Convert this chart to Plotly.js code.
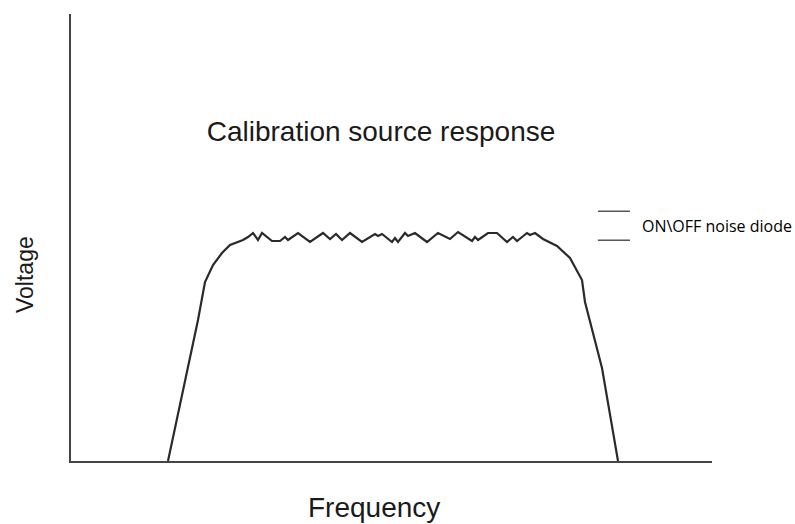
<!DOCTYPE html>
<html>
<head>
<meta charset="utf-8">
<script src="https://cdn.plot.ly/plotly-3.0.1.min.js"></script>
<style>html,body{margin:0;padding:0;background:#fff;}#chart{width:795px;height:524px;}</style>
</head>
<body>
<div id="chart"></div>
<script>
// Frequency (arbitrary units) and detected voltage (arbitrary units)
const frequency = [97,127,134,142,151,159,172,177,182,187,191,201,209,214,217,227,239,252,259,265,271,279,291,304,307,311,321,324,327,334,337,344,356,367,379,387,401,404,407,417,426,436,442,446,456,459,464,472,486,499,511,514,531,547];
const voltage   = [0,141,179,196,208,216,221,224,228,221,228,220,220,224,221,228,219,228,222,227,221,228,219,227,225,227,219,223,219,228,225,228,219,228,222,229,220,224,221,228,228,219,224,220,228,226,228,222,215,203,181,159,93,0];
const titleText = "Calibration source response";
const xTitle = "Frequency";
const yTitle = "Voltage";
const legendText = "ON\\OFF noise diode";

const trace = {
  x: frequency, y: voltage, type: 'scatter', mode: 'lines',
  line: {color: '#2a2a2a', width: 2.2}, showlegend: false, hoverinfo: 'skip'
};

const layout = {
  width: 795, height: 524,
  margin: {l: 71, r: 83, t: 14, b: 63},
  paper_bgcolor: '#ffffff', plot_bgcolor: '#ffffff',
  xaxis: {range: [0, 641], showgrid: false, zeroline: false, showticklabels: false, ticks: '',
          showline: true, linecolor: '#444444', linewidth: 2, fixedrange: true},
  yaxis: {range: [0, 447], showgrid: false, zeroline: false, showticklabels: false, ticks: '',
          showline: true, linecolor: '#444444', linewidth: 2, fixedrange: true},
  title: {text: titleText, font: {family: 'Liberation Sans, Arial, sans-serif', size: 28, color: '#1a1a1a'},
          xref: 'container', yref: 'container', x: 381/795, y: 1 - 131/524, xanchor: 'center', yanchor: 'middle'},
  shapes: [
    {type: 'line', xref: 'paper', yref: 'paper', x0: 0.822, x1: 0.872, y0: 0.559, y1: 0.559, line: {color: '#555555', width: 1.5}},
    {type: 'line', xref: 'paper', yref: 'paper', x0: 0.822, x1: 0.872, y0: 0.494, y1: 0.494, line: {color: '#555555', width: 1.5}}
  ],
  annotations: [
    {text: legendText, xref: 'paper', yref: 'paper', x: 0.888, y: 0.526, xanchor: 'left', yanchor: 'middle',
     showarrow: false, font: {family: 'Open Sans, sans-serif', size: 16, color: '#000000'}},
    {text: xTitle, xref: 'paper', yref: 'paper', x: (374-71)/641, y: (461-507)/447, xanchor: 'center', yanchor: 'middle',
     showarrow: false, font: {family: 'Liberation Sans, Arial, sans-serif', size: 28, color: '#1a1a1a'}},
    {text: yTitle, xref: 'paper', yref: 'paper', x: (25-71)/641, y: (461-275)/447, xanchor: 'center', yanchor: 'middle',
     textangle: -90, showarrow: false, font: {family: 'Liberation Sans, Arial, sans-serif', size: 23, color: '#1a1a1a'}}
  ]
};

Plotly.newPlot('chart', [trace], layout, {staticPlot: true, displayModeBar: false});
</script>
</body>
</html>
